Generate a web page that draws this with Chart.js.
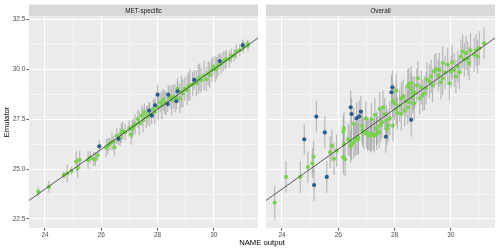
<!DOCTYPE html>
<html>
<head>
<meta charset="utf-8">
<script src="https://cdn.jsdelivr.net/npm/chart.js@4.4.1/dist/chart.umd.min.js"></script>
<style>
  body { margin: 0; background: #fff; font-family: "Liberation Sans", Arial, sans-serif; }
  #wrap { position: relative; width: 500px; height: 251px; overflow: hidden; }
  .panel { position: absolute; top: 0; height: 251px; }
  #xt { position: absolute; left: 162px; width: 200px; top: 238px; height: 10px; line-height: 10px;
        text-align: center; font-size: 7.7px; color: #000; }
  #yt { position: absolute; left: -43px; top: 117px; width: 100px; height: 10px; line-height: 10px;
        text-align: center; font-size: 7.7px; color: #000; transform: rotate(-90deg); }
</style>
</head>
<body>
<div id="wrap">
  <div class="panel" style="left:0;width:262px"><canvas id="left" width="262" height="251"></canvas></div>
  <div class="panel" style="left:262px;width:238px"><canvas id="right" width="238" height="251"></canvas></div>
  <div id="xt">NAME output</div>
  <div id="yt">Emulator</div>
</div>
<script>
// panel titles
const panels = ['MET-specific', 'Overall'];

// axis ticks
const xTicks = [24, 26, 28, 30];
const xMinor = [25, 27, 29, 31];
const yTicks = [22.5, 25, 27.5, 30, 32.5];
const yMinor = [23.75, 26.25, 28.75, 31.25];
const xLimits = [23.43, 31.57];
const yLimits = [22.05, 32.67];

// [NAME output, emulator mean, half width of interval]
const metGreen = [
  [23.76,23.87,0.25],[24.14,24.11,0.3],[24.67,24.70,0.2],[24.79,24.78,0.45],[24.94,24.91,0.2],
  [25.11,25.38,0.5],[25.16,25.05,0.5],[25.23,25.47,0.45],[25.53,25.45,0.45],[25.61,25.58,0.3],
  [25.73,25.50,0.35],[25.79,25.50,0.35],[25.87,25.70,0.2],[26.18,26.06,0.45],[26.24,26.17,0.4],
  [26.30,26.26,0.3],[26.38,26.37,0.45],[26.44,26.37,0.3],[26.47,26.09,0.4],[26.55,26.67,0.4],
  [26.67,26.59,0.45],[26.71,26.81,0.5],[26.76,26.92,0.45],[26.99,27.04,0.4],[27.06,26.72,0.5],
  [27.14,27.13,0.4],[27.20,27.25,0.5],[27.30,27.51,0.45],[27.35,27.30,0.6],[27.44,27.68,0.5],
  [27.48,27.45,0.6],[27.53,27.84,0.45],[27.60,27.60,0.55],[27.72,27.75,0.6],[27.85,28.02,0.5],
  [27.90,27.85,0.6],[28.02,28.10,0.65],[28.09,28.35,0.5],[28.15,28.20,0.7],[28.20,28.48,0.55],
  [28.30,28.30,0.6],[28.44,28.60,0.55],[28.50,28.45,0.75],[28.56,28.63,0.6],[28.62,28.55,0.7],
  [28.71,29.02,0.55],[28.79,28.54,0.75],[28.85,28.88,0.8],[28.97,29.02,0.6],[29.05,28.95,0.75],
  [29.15,29.20,0.8],[29.25,29.25,0.6],[29.38,29.30,0.65],[29.45,29.50,0.75],[29.55,29.45,0.6],
  [29.65,29.70,0.75],[29.73,29.50,0.6],[29.85,29.72,0.65],[29.92,29.95,0.6],[29.97,30.14,0.5],
  [30.05,30.00,0.65],[30.15,30.20,0.55],[30.25,30.25,0.5],[30.33,30.39,0.5],[30.44,30.51,0.45],
  [30.55,30.50,0.4],[30.62,30.68,0.35],[30.72,30.70,0.3],[30.80,30.89,0.35],[30.92,30.95,0.3],
  [31.05,31.10,0.3],[31.21,31.18,0.25],[31.20,31.26,0.2],
  [27.10,27.00,0.45],[27.65,27.70,0.5],[28.25,28.35,0.6],[28.90,28.80,0.7],[29.10,29.15,0.7],
  [29.50,29.60,0.7],[29.80,29.80,0.6],[30.10,30.05,0.55],[30.40,30.45,0.45],[26.85,26.85,0.4]
];
const metBlue = [
  [25.93,26.14,0.3],[26.61,26.51,0.3],[27.70,27.93,0.4],[27.79,27.68,0.4],[27.91,28.20,0.4],
  [28.00,28.73,0.5],[28.36,28.26,0.4],[28.38,28.73,0.5],[28.67,28.40,0.4],[28.71,28.90,0.5],
  [29.30,29.47,0.5],[30.21,30.41,0.4],[31.03,31.21,0.3]
];
const ovGreen = [
  [23.74,23.32,0.85],[24.14,24.61,0.8],[24.65,24.61,0.8],[24.92,25.10,0.8],[25.08,25.29,0.75],
  [25.12,25.62,0.8],[25.71,25.84,0.8],[25.77,26.17,0.8],[25.85,25.52,0.8],[25.94,25.92,0.8],
  [26.18,25.60,0.85],[26.24,25.50,0.85],[26.20,26.26,0.8],[26.18,26.87,0.8],[26.20,27.04,0.8],
  [26.41,26.42,0.8],[26.47,26.24,0.8],[26.55,26.34,0.8],[26.63,26.54,0.85],[26.71,26.51,0.8],
  [26.44,26.14,0.8],[26.55,27.26,0.8],[26.98,27.54,0.85],[27.00,26.84,0.8],[27.06,26.78,0.8],
  [27.12,26.72,0.8],[27.18,26.76,0.85],[27.24,26.76,0.8],[27.18,27.51,0.8],[27.30,27.71,0.85],
  [27.36,26.76,0.8],[27.38,27.09,0.8],[27.36,27.01,0.8],[27.47,28.01,0.85],[27.59,28.10,0.85],
  [27.65,27.76,0.8],[27.71,27.43,0.8],[27.73,27.01,0.8],[27.77,27.18,0.8],[27.83,27.54,0.85],
  [27.94,27.18,0.8],[27.94,28.43,0.85],[28.06,28.93,0.85],[28.06,28.01,0.8],[28.18,28.18,0.8],
  [28.24,27.76,0.85],[28.24,28.55,0.8],[28.36,27.93,0.8],[28.47,28.10,0.85],[28.47,29.14,0.85],
  [28.51,29.27,0.8],[28.53,28.35,0.8],[28.59,29.30,0.85],[28.59,29.02,0.8],[28.65,28.60,0.8],
  [28.65,28.80,0.85],[28.71,28.85,0.8],[28.79,29.19,0.85],[28.83,29.55,0.85],[28.89,28.55,0.8],
  [29.06,28.80,0.85],[29.12,29.05,0.8],[29.24,29.39,0.85],[29.30,29.64,0.85],[29.42,29.89,0.85],
  [29.48,30.01,0.8],[29.59,29.97,0.85],[29.71,29.55,0.85],[29.71,30.31,0.85],[29.89,30.23,0.85],
  [29.95,29.30,0.85],[30.01,29.89,0.8],[30.12,29.97,0.85],[30.18,29.64,0.85],[30.36,30.64,0.85],
  [30.42,30.89,0.85],[30.48,30.48,0.85],[30.54,30.81,0.85],[30.65,30.31,0.85],[30.83,30.73,0.85],
  [30.95,30.64,0.85],[31.01,31.06,0.85],[31.18,31.31,0.8],
  [26.90,26.80,0.8],[27.05,26.70,0.8],[27.15,26.65,0.8],[27.28,26.68,0.85],[27.45,26.85,0.8],
  [27.50,27.20,0.85],[27.55,27.35,0.8],[26.85,26.95,0.8],[26.70,26.60,0.85],[26.35,26.50,0.8],
  [26.60,26.45,0.8],[26.85,27.15,0.8],[28.00,28.30,0.85],[28.10,27.80,0.8],[28.30,28.65,0.85],
  [28.40,28.40,0.8],[28.70,28.30,0.85],[28.95,29.10,0.85],[29.00,28.70,0.8],[29.15,29.50,0.85],
  [29.35,29.20,0.85],[29.55,29.70,0.8],[29.65,29.35,0.85],[29.80,29.85,0.85],[30.05,30.35,0.85],
  [30.25,30.15,0.8],[30.30,29.85,0.85],[30.60,30.55,0.85],[30.70,30.95,0.85],[30.90,30.95,0.8]
];
const ovBlue = [
  [24.79,26.49,0.75],[25.14,24.20,0.8],[25.22,27.63,0.8],[25.52,26.84,0.8],[25.59,24.61,0.8],
  [26.44,28.10,0.85],[26.47,27.76,0.8],[26.65,27.54,0.8],[26.74,27.64,0.8],[26.80,27.88,0.8],
  [27.69,26.62,0.8],[27.89,28.85,0.85],[27.92,29.10,0.85],[28.59,27.47,0.85]
];

const GREEN = '#7AD151';
const BLUE = '#2D5D8B';
const FONT = '"Liberation Sans", Arial, sans-serif';

const toPts = arr => arr.map(d => ({ x: d[0], y: d[1], e: d[2] }));

// grey vertical intervals behind the points
const errorBars = {
  id: 'errorBars',
  beforeDatasetsDraw(chart) {
    const { ctx, chartArea, scales: { x, y } } = chart;
    ctx.save();
    ctx.beginPath();
    ctx.rect(chartArea.left, chartArea.top, chartArea.right - chartArea.left, chartArea.bottom - chartArea.top);
    ctx.clip();
    ctx.strokeStyle = 'rgba(150,150,150,0.6)';
    ctx.lineWidth = 1.2;
    chart.data.datasets.forEach(ds => {
      if (!ds.errorBars) return;
      ds.data.forEach(p => {
        const px = x.getPixelForValue(p.x);
        ctx.beginPath();
        ctx.moveTo(px, y.getPixelForValue(p.y - p.e));
        ctx.lineTo(px, y.getPixelForValue(p.y + p.e));
        ctx.stroke();
      });
    });
    ctx.restore();
  }
};

// facet strip on top of each panel
const strip = {
  id: 'strip',
  afterDraw(chart, args, opts) {
    const { ctx, chartArea } = chart;
    ctx.save();
    ctx.fillStyle = '#D9D9D9';
    ctx.fillRect(chartArea.left, 4.5, chartArea.right - chartArea.left, chartArea.top - 4.5);
    ctx.fillStyle = '#1A1A1A';
    ctx.font = '6.4px ' + FONT;
    ctx.textAlign = 'center';
    ctx.textBaseline = 'middle';
    ctx.fillText(opts.text, (chartArea.left + chartArea.right) / 2, (4.5 + chartArea.top) / 2 + 0.5);
    ctx.restore();
  }
};

function makeChart(id, title, green, blue, showY) {
  const isMajorX = v => xTicks.includes(v);
  const isMajorY = v => yTicks.includes(v);
  return new Chart(document.getElementById(id), {
    type: 'scatter',
    data: {
      datasets: [
        {
          type: 'line',
          data: [{ x: xLimits[0], y: xLimits[0] }, { x: xLimits[1], y: xLimits[1] }],
          borderColor: '#333333',
          borderWidth: 0.8,
          pointRadius: 0,
          order: 0
        },
        {
          data: toPts(blue),
          errorBars: true,
          backgroundColor: BLUE,
          borderWidth: 0,
          pointRadius: 2.1,
          order: 1
        },
        {
          data: toPts(green),
          errorBars: true,
          backgroundColor: GREEN,
          borderWidth: 0,
          pointRadius: 2.1,
          order: 2
        }
      ]
    },
    options: {
      responsive: false,
      animation: false,
      events: [],
      layout: { padding: { top: 16, right: showY ? 0 : 5, left: 0, bottom: 0 } },
      plugins: {
        legend: { display: false },
        tooltip: { enabled: false },
        strip: { text: title }
      },
      scales: {
        x: {
          type: 'linear',
          min: xLimits[0],
          max: xLimits[1],
          afterBuildTicks: s => { s.ticks = xTicks.concat(xMinor).sort((a, b) => a - b).map(v => ({ value: v })); },
          afterFit: s => { s.height = 23; },
          ticks: {
            autoSkip: false,
            maxRotation: 0,
            padding: 1,
            color: '#4D4D4D',
            font: { family: FONT, size: 6.5 },
            callback: v => isMajorX(v) ? String(v) : ''
          },
          grid: {
            color: '#FFFFFF',
            lineWidth: c => (c.tick && isMajorX(c.tick.value)) ? 1.1 : 0.5,
            tickColor: c => (c.tick && isMajorX(c.tick.value)) ? '#333333' : 'rgba(0,0,0,0)',
            tickLength: 2.7,
            tickWidth: 0.8
          },
          border: { display: false }
        },
        y: {
          type: 'linear',
          min: yLimits[0],
          max: yLimits[1],
          afterBuildTicks: s => { s.ticks = yTicks.concat(yMinor).sort((a, b) => a - b).map(v => ({ value: v })); },
          afterFit: s => { s.width = showY ? 29 : 2.3; },
          ticks: {
            display: showY,
            autoSkip: false,
            padding: 1,
            color: '#4D4D4D',
            font: { family: FONT, size: 6.5 },
            callback: v => isMajorY(v) ? v.toFixed(1) : ''
          },
          grid: {
            color: '#FFFFFF',
            lineWidth: c => (c.tick && isMajorY(c.tick.value)) ? 1.1 : 0.5,
            tickColor: c => (showY && c.tick && isMajorY(c.tick.value)) ? '#333333' : 'rgba(0,0,0,0)',
            tickLength: showY ? 2.7 : 0,
            drawTicks: showY,
            tickWidth: 0.8
          },
          border: { display: false }
        }
      }
    },
    plugins: [
      {
        id: 'panelBg',
        beforeDraw(chart) {
          const { ctx, chartArea } = chart;
          ctx.save();
          ctx.fillStyle = '#EBEBEB';
          ctx.fillRect(chartArea.left, chartArea.top, chartArea.right - chartArea.left, chartArea.bottom - chartArea.top);
          ctx.restore();
        }
      },
      errorBars,
      strip
    ]
  });
}

makeChart('left', panels[0], metGreen, metBlue, true);
makeChart('right', panels[1], ovGreen, ovBlue, false);
</script>
</body>
</html>
